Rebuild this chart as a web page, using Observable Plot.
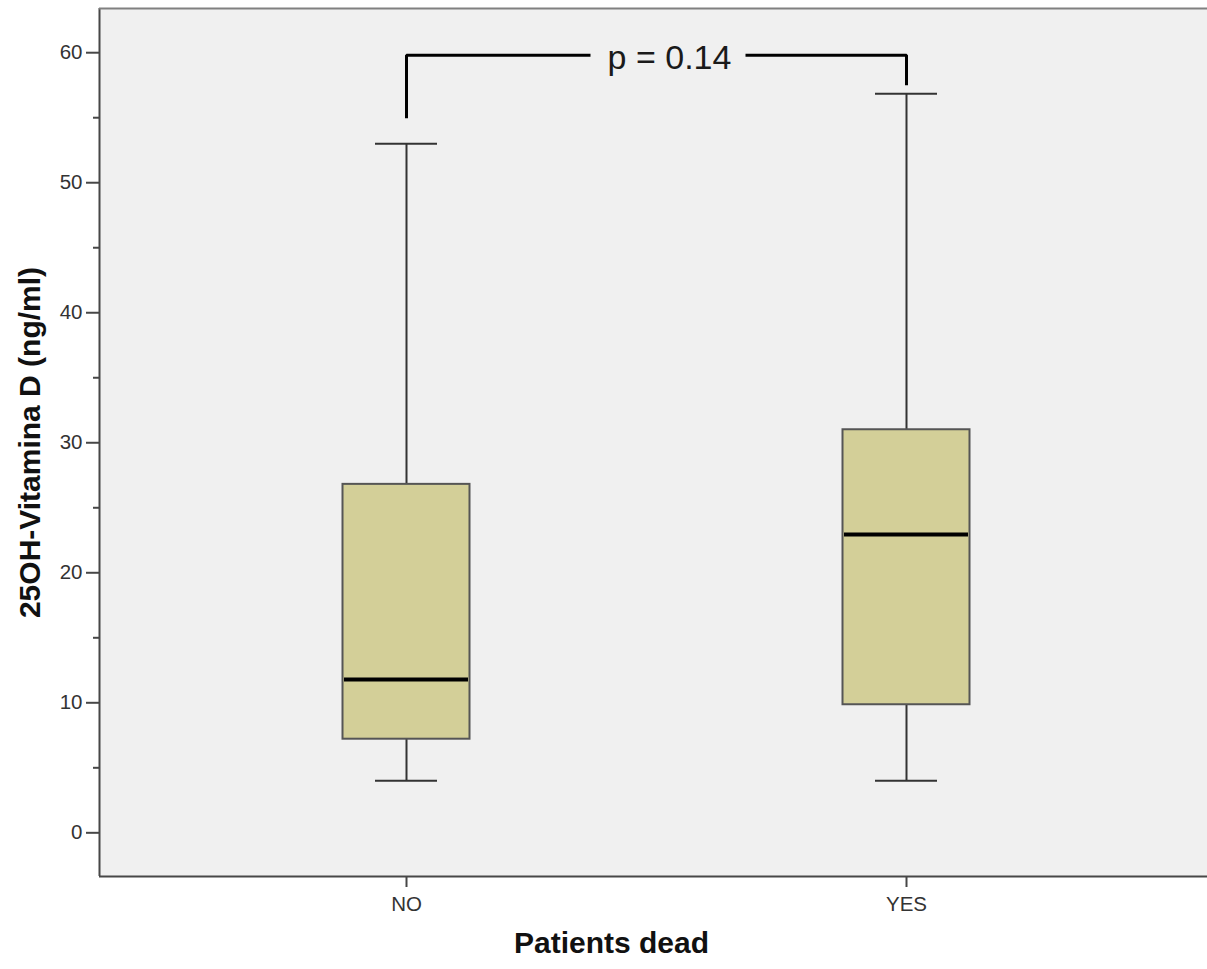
<!DOCTYPE html>
<html><head><meta charset="utf-8">
<script src="https://cdn.jsdelivr.net/npm/d3@7"></script>
<script src="https://cdn.jsdelivr.net/npm/@observablehq/plot@0.6"></script>
<style>html,body{margin:0;padding:0;background:#fff;overflow:hidden}</style>
</head><body><div id="chart"></div>
<script>
const categories = ["NO", "YES"];
const whiskerLow = [4.0, 4.0];
const q1 = [7.2, 9.85];
const median = [11.8, 22.95];
const q3 = [26.8, 31.0];
const whiskerHigh = [53.0, 56.85];
const yTicks = [0, 10, 20, 30, 40, 50, 60];
const yMinorTicks = [5, 15, 25, 35, 45, 55];
const pLabel = "p = 0.14";
const bracketY = 59.8;
const bracketDrop = [54.95, 57.5];
const yTitle = "25OH-Vitamina D (ng/ml)";
const xTitle = "Patients dead";

const xDomain = [-0.614, 1.602];
const yDomain = [-3.36, 63.4];
const boxHalf = 0.127, capHalf = 0.062;
const data = categories.map((c, i) => ({i, c, lo: whiskerLow[i], q1: q1[i], med: median[i], q3: q3[i], hi: whiskerHigh[i]}));
const bracket = [
  {side: "L", x: 0, y: bracketDrop[0]}, {side: "L", x: 0, y: bracketY}, {side: "L", x: 0.368, y: bracketY},
  {side: "R", x: 0.678, y: bracketY}, {side: "R", x: 1, y: bracketY}, {side: "R", x: 1, y: bracketDrop[1]}
];
const font = "Liberation Sans, Arial, sans-serif";
const lineCol = "#474747";

const chart = Plot.plot({
  width: 1207,
  height: 969,
  marginLeft: 99,
  marginRight: 0,
  marginTop: 8,
  marginBottom: 93,
  style: {fontFamily: font, background: "#fff"},
  x: {domain: xDomain},
  y: {domain: yDomain},
  marks: [
    Plot.frame({fill: "#f0f0f0", stroke: "none"}),
    Plot.ruleX([xDomain[0]], {stroke: lineCol, strokeWidth: 2}),
    Plot.ruleY([yDomain[0]], {stroke: lineCol, strokeWidth: 2}),
    Plot.ruleY([yDomain[1]], {stroke: "#808080", strokeWidth: 2}),
    Plot.axisY(yTicks, {tickSize: 13, tickPadding: 4, fontSize: 20.5, stroke: lineCol, strokeWidth: 2, fill: "#333", label: null}),
    Plot.axisY(yMinorTicks, {tickSize: 6, tickFormat: () => "", stroke: lineCol, strokeWidth: 2, label: null}),
    Plot.axisX([0, 1], {tickFormat: i => categories[i], tickSize: 11, tickPadding: 9, fontSize: 20.5, stroke: lineCol, strokeWidth: 2, fill: "#333", label: null}),
    // whiskers
    Plot.ruleX(data, {x: "i", y1: "q3", y2: "hi", stroke: "#333", strokeWidth: 2}),
    Plot.ruleX(data, {x: "i", y1: "lo", y2: "q1", stroke: "#333", strokeWidth: 2}),
    Plot.ruleY(data, {y: "hi", x1: d => d.i - capHalf, x2: d => d.i + capHalf, stroke: "#333", strokeWidth: 2}),
    Plot.ruleY(data, {y: "lo", x1: d => d.i - capHalf, x2: d => d.i + capHalf, stroke: "#333", strokeWidth: 2}),
    // boxes
    Plot.rect(data, {x1: d => d.i - boxHalf, x2: d => d.i + boxHalf, y1: "q1", y2: "q3", fill: "#d3cf98", stroke: "#555", strokeWidth: 2}),
    Plot.ruleY(data, {y: "med", x1: d => d.i - boxHalf + 0.003, x2: d => d.i + boxHalf - 0.003, stroke: "#000", strokeWidth: 4}),
    // bracket
    Plot.line(bracket, {x: "x", y: "y", z: "side", stroke: "#000", strokeWidth: 3, strokeLinejoin: "miter", strokeLinecap: "butt"}),
    Plot.text([pLabel], {x: 0.526, y: bracketY, dy: 3, text: d => d, fontSize: 34, fill: "#1a1a1a"}),
    // titles
    Plot.text([yTitle], {frameAnchor: "left", dx: -69, rotate: -90, textAnchor: "middle", text: d => d, fontSize: 30, fontWeight: "bold", fill: "#111"}),
    Plot.text([xTitle], {x: 0.41, frameAnchor: "bottom", dy: 76, text: d => d, fontSize: 30, fontWeight: "bold", fill: "#111"})
  ]
});
document.getElementById("chart").appendChild(chart);
</script>
</body></html>
